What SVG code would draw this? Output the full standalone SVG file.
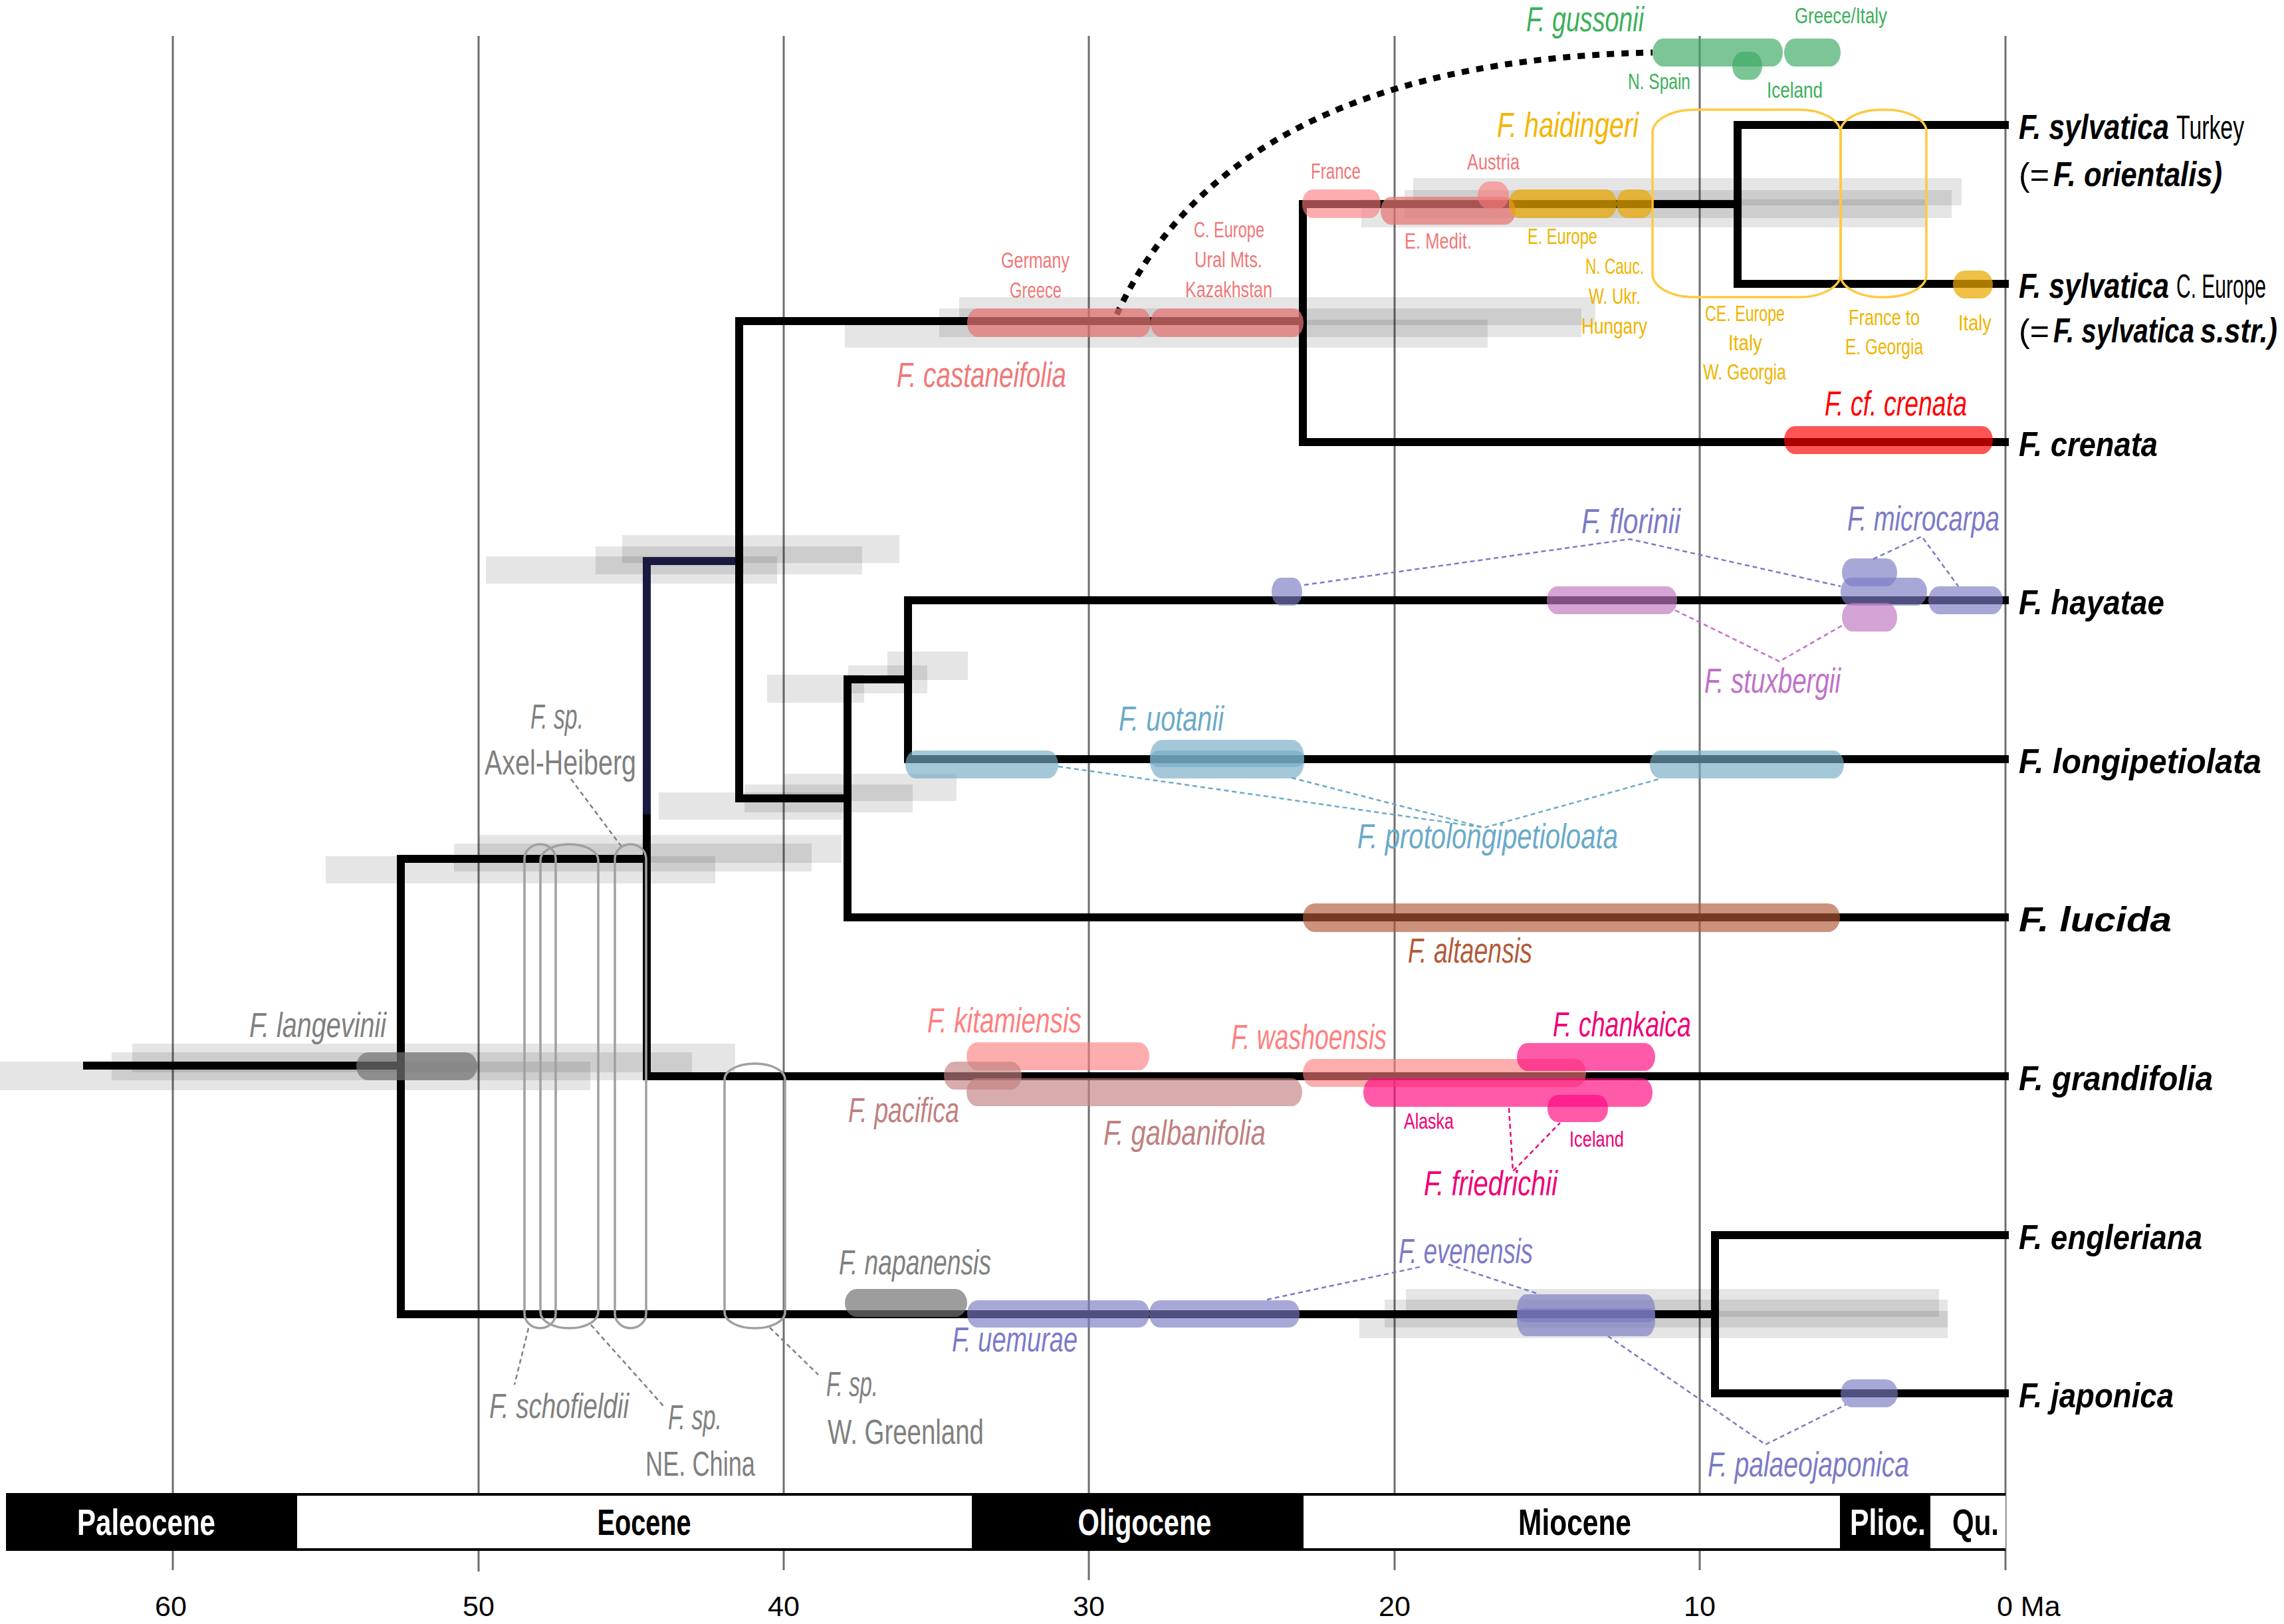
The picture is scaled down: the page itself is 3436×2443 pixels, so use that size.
<svg xmlns="http://www.w3.org/2000/svg" width="3436" height="2443" viewBox="0 0 3436 2443">
<style>
text{font-family:"Liberation Sans",Arial,sans-serif}
.grid{stroke:#6e6e6e;stroke-width:3}
.hpd{fill:#000;fill-opacity:.1}
.br{fill:none;stroke:#000;stroke-width:12;stroke-linejoin:miter;stroke-linecap:butt}
.nav{fill:none;stroke:#1a1a40;stroke-width:12;stroke-linejoin:miter}
.pill{fill:none;stroke:#a0a0a0;stroke-width:3.5}
.ybox{fill:none;stroke:#ffc940;stroke-width:3.5}
.grn{fill:rgb(60,170,100);fill-opacity:.68}
.pkA{fill:rgb(232,116,116);fill-opacity:.72}
.pkB{fill:rgb(252,122,122);fill-opacity:.62}
.gld{fill:rgb(234,167,0);fill-opacity:.72}
.red{fill:rgb(255,0,0);fill-opacity:.667}
.blu{fill:rgb(122,122,195);fill-opacity:.655}
.lil{fill:rgb(191,119,191);fill-opacity:.67}
.tel{fill:rgb(116,171,195);fill-opacity:.655}
.brn{fill:rgb(177,88,55);fill-opacity:.655}
.ros{fill:rgb(195,128,128);fill-opacity:.655}
.hot{fill:rgb(255,3,125);fill-opacity:.655}
.gry{fill:rgb(116,116,116);fill-opacity:.7}
.tip{font-size:52px;font-weight:bold;fill:#000}
.tipi{font-size:52px;font-weight:bold;font-style:italic;fill:#000}
.tipr{font-size:50px;fill:#000}
.sp{font-size:51px;font-style:italic}
.loc{font-size:33px}
.gl{font-size:51px;fill:#808080}
.dash{fill:none;stroke-width:2.5;stroke-dasharray:7 5}
.ep{font-size:55px;font-weight:bold;text-anchor:middle}
.tk{font-size:43px;fill:#000}
</style>

<g id="grid">
<line class="grid" x1="260" y1="54" x2="260" y2="2362"/>
<line class="grid" x1="720" y1="54" x2="720" y2="2364"/>
<line class="grid" x1="1179" y1="54" x2="1179" y2="2362"/>
<line class="grid" x1="1638" y1="54" x2="1638" y2="2377"/>
<line class="grid" x1="2098" y1="54" x2="2098" y2="2362"/>
<line class="grid" x1="2557" y1="54" x2="2557" y2="2362"/>
<line class="grid" x1="3017" y1="54" x2="3017" y2="2362"/>
</g>

<g id="hpd-bars">
<rect class="hpd" x="0" y="1597" width="888" height="43"/>
<rect class="hpd" x="168" y="1583" width="873" height="42"/>
<rect class="hpd" x="199" y="1570" width="907" height="43"/>
<rect class="hpd" x="490" y="1288" width="586" height="41"/>
<rect class="hpd" x="683" y="1269" width="538" height="42"/>
<rect class="hpd" x="721" y="1256" width="545" height="42"/>
<rect class="hpd" x="731" y="837" width="438" height="41"/>
<rect class="hpd" x="896" y="822" width="401" height="42"/>
<rect class="hpd" x="936" y="805" width="417" height="42"/>
<rect class="hpd" x="991" y="1192" width="277" height="41"/>
<rect class="hpd" x="1120" y="1180" width="253" height="42"/>
<rect class="hpd" x="1180" y="1164" width="259" height="41"/>
<rect class="hpd" x="1154" y="1015" width="146" height="42"/>
<rect class="hpd" x="1276" y="1001" width="119" height="42"/>
<rect class="hpd" x="1335" y="980" width="121" height="43"/>
<rect class="hpd" x="1271" y="481" width="967" height="42"/>
<rect class="hpd" x="1413" y="464" width="966" height="43"/>
<rect class="hpd" x="1443" y="447" width="957" height="42"/>
<rect class="hpd" x="2126" y="268" width="825" height="41"/>
<rect class="hpd" x="2113" y="286" width="823" height="42"/>
<rect class="hpd" x="2048" y="300" width="850" height="42"/>
<rect class="hpd" x="2115" y="1939" width="802" height="42"/>
<rect class="hpd" x="2083" y="1955" width="847" height="42"/>
<rect class="hpd" x="2045" y="1972" width="885" height="41"/>
</g>

<g id="branches">
<path class="br" d="M125,1603 H603"/>
<path class="br" d="M973,1292 H603 V1977 H2580"/>
<path class="nav" d="M1112,844 H973 V1225"/>
<path class="br" d="M973,1225 V1619 H3022"/>
<path class="br" d="M1960,483 H1112 V1201 H1275"/>
<path class="br" d="M2614,307 H1960 V665 H3022"/>
<path class="br" d="M3022,188 H2614 V427 H3022"/>
<path class="br" d="M1366,1022 H1275 V1380 H3022"/>
<path class="br" d="M3022,903 H1366 V1142 H3022"/>
<path class="br" d="M3022,1858 H2580 V2096 H3022"/>
</g>

<g id="connectors">
<path d="M1680,473 C1760,300 1950,90 2486,79" fill="none" stroke="#000" stroke-width="9" stroke-dasharray="11 11"/>
<polyline class="dash" stroke="#7a7ac8" points="1962,880 2452,811 2769,882"/>
<polyline class="dash" stroke="#7a7ac8" points="2818,841 2891,807 2946,882"/>
<polyline class="dash" stroke="#c070c8" points="2520,918 2677,995 2773,940"/>
<polyline class="dash" stroke="#6aaac8" points="1592,1153 2233,1245 2499,1171"/>
<line class="dash" stroke="#6aaac8" x1="1943" y1="1170" x2="2233" y2="1245"/>
<polyline class="dash" stroke="#ee0077" points="2270,1667 2276,1762 2347,1689"/>
<line class="dash" stroke="#7a7ac8" x1="1906" y1="1955" x2="2140" y2="1905"/>
<line class="dash" stroke="#7a7ac8" x1="2179" y1="1902" x2="2316" y2="1947"/>
<polyline class="dash" stroke="#7a7ac8" points="2419,2010 2656,2173 2777,2113"/>
<line class="dash" stroke="#808080" x1="859" y1="1172" x2="936" y2="1275"/>
<line class="dash" stroke="#808080" x1="795" y1="1998" x2="774" y2="2083"/>
<line class="dash" stroke="#808080" x1="889" y1="1993" x2="998" y2="2115"/>
<line class="dash" stroke="#808080" x1="1158" y1="1997" x2="1231" y2="2068"/>
</g>

<g id="sylvatica-boxes">
<rect class="ybox" x="2486" y="165" width="283" height="282" rx="62" ry="35"/>
<rect class="ybox" x="2769" y="165" width="129" height="282" rx="62" ry="33"/>
</g>

<g id="gussonii">
<rect class="grn" x="2486" y="58" width="196" height="42" rx="16" ry="21"/>
<rect class="grn" x="2684" y="58" width="85" height="42" rx="16" ry="21"/>
<rect class="grn" x="2606" y="78" width="45" height="42" rx="16" ry="21"/>
<text class="sp" x="2296" y="47" fill="#3cb05a" textLength="177" lengthAdjust="spacingAndGlyphs">F. gussonii</text>
<text class="loc" x="2700" y="35" fill="#3cb05a" textLength="139" lengthAdjust="spacingAndGlyphs">Greece/Italy</text>
<text class="loc" x="2449" y="134" fill="#3cb05a" textLength="94" lengthAdjust="spacingAndGlyphs">N. Spain</text>
<text class="loc" x="2658" y="147" fill="#3cb05a" textLength="84" lengthAdjust="spacingAndGlyphs">Iceland</text>
</g>

<g id="castaneifolia">
<rect class="pkA" x="1455" y="464" width="276" height="43" rx="16" ry="21"/>
<rect class="pkA" x="1731" y="464" width="230" height="43" rx="16" ry="21"/>
<rect class="pkB" x="1959" y="285" width="118" height="43" rx="16" ry="21"/>
<rect class="pkA" x="2077" y="296" width="203" height="42" rx="16" ry="21"/>
<rect class="pkB" x="2223" y="273" width="47" height="42" rx="18" ry="21"/>
<text class="sp" x="1349" y="582" fill="#f07878" textLength="255" lengthAdjust="spacingAndGlyphs">F. castaneifolia</text>
<text class="loc" x="1506" y="403" fill="#f07878" textLength="103" lengthAdjust="spacingAndGlyphs">Germany</text>
<text class="loc" x="1519" y="448" fill="#f07878" textLength="78" lengthAdjust="spacingAndGlyphs">Greece</text>
<text class="loc" x="1796" y="357" fill="#f07878" textLength="106" lengthAdjust="spacingAndGlyphs">C. Europe</text>
<text class="loc" x="1797" y="402" fill="#f07878" textLength="102" lengthAdjust="spacingAndGlyphs">Ural Mts.</text>
<text class="loc" x="1783" y="447" fill="#f07878" textLength="131" lengthAdjust="spacingAndGlyphs">Kazakhstan</text>
<text class="loc" x="1972" y="269" fill="#f07878" textLength="75" lengthAdjust="spacingAndGlyphs">France</text>
<text class="loc" x="2207" y="255" fill="#f07878" textLength="79" lengthAdjust="spacingAndGlyphs">Austria</text>
<text class="loc" x="2113" y="374" fill="#f07878" textLength="101" lengthAdjust="spacingAndGlyphs">E. Medit.</text>
</g>

<g id="haidingeri">
<rect class="gld" x="2270" y="285" width="162" height="43" rx="16" ry="21"/>
<rect class="gld" x="2432" y="285" width="54" height="43" rx="16" ry="21"/>
<rect class="gld" x="2938" y="407" width="60" height="42" rx="18" ry="21"/>
<text class="sp" x="2252" y="206" fill="#f5b400" textLength="213" lengthAdjust="spacingAndGlyphs">F. haidingeri</text>
<text class="loc" x="2298" y="367" fill="#f0b400" textLength="105" lengthAdjust="spacingAndGlyphs">E. Europe</text>
<text class="loc" x="2385" y="412" fill="#f0b400" textLength="88" lengthAdjust="spacingAndGlyphs">N. Cauc.</text>
<text class="loc" x="2390" y="457" fill="#f0b400" textLength="78" lengthAdjust="spacingAndGlyphs">W. Ukr.</text>
<text class="loc" x="2379" y="502" fill="#f0b400" textLength="99" lengthAdjust="spacingAndGlyphs">Hungary</text>
<text class="loc" x="2565" y="483" fill="#f0b400" textLength="120" lengthAdjust="spacingAndGlyphs">CE. Europe</text>
<text class="loc" x="2600" y="527" fill="#f0b400" textLength="51" lengthAdjust="spacingAndGlyphs">Italy</text>
<text class="loc" x="2562" y="571" fill="#f0b400" textLength="125" lengthAdjust="spacingAndGlyphs">W. Georgia</text>
<text class="loc" x="2781" y="489" fill="#f0b400" textLength="107" lengthAdjust="spacingAndGlyphs">France to</text>
<text class="loc" x="2776" y="533" fill="#f0b400" textLength="117" lengthAdjust="spacingAndGlyphs">E. Georgia</text>
<text class="loc" x="2946" y="497" fill="#f0b400" textLength="50" lengthAdjust="spacingAndGlyphs">Italy</text>
</g>

<g id="cf-crenata">
<rect class="red" x="2684" y="641" width="314" height="42" rx="16" ry="21"/>
<text class="sp" x="2745" y="625" fill="#ff0000" textLength="214" lengthAdjust="spacingAndGlyphs">F. cf. crenata</text>
</g>

<g id="hayatae-fossils">
<rect class="blu" x="1913" y="869" width="46" height="42" rx="14" ry="21"/>
<rect class="lil" x="2327" y="882" width="196" height="42" rx="16" ry="21"/>
<rect class="blu" x="2771" y="840" width="83" height="42" rx="16" ry="21"/>
<rect class="blu" x="2769" y="869" width="130" height="42" rx="16" ry="21"/>
<rect class="lil" x="2771" y="907" width="83" height="43" rx="16" ry="21"/>
<rect class="blu" x="2901" y="882" width="112" height="42" rx="16" ry="21"/>
<text class="sp" x="2379" y="802" fill="#7a7ac8" textLength="149" lengthAdjust="spacingAndGlyphs">F. florinii</text>
<text class="sp" x="2779" y="798" fill="#7a7ac8" textLength="229" lengthAdjust="spacingAndGlyphs">F. microcarpa</text>
<text class="sp" x="2564" y="1042" fill="#c070c8" textLength="205" lengthAdjust="spacingAndGlyphs">F. stuxbergii</text>
</g>

<g id="longipetiolata-fossils">
<rect class="tel" x="1362" y="1129" width="230" height="42" rx="16" ry="21"/>
<rect class="tel" x="1730" y="1113" width="232" height="58" rx="18" ry="26"/>
<rect class="tel" x="1730" y="1129" width="232" height="25" rx="14" ry="12"/>
<rect class="tel" x="2482" y="1129" width="292" height="42" rx="16" ry="21"/>
<text class="sp" x="1683" y="1099" fill="#6aaac8" textLength="158" lengthAdjust="spacingAndGlyphs">F. uotanii</text>
<text class="sp" x="2042" y="1276" fill="#6aaac8" textLength="392" lengthAdjust="spacingAndGlyphs">F. protolongipetioloata</text>
</g>

<g id="altaensis">
<rect class="brn" x="1960" y="1359" width="808" height="43" rx="18" ry="21"/>
<text class="sp" x="2118" y="1448" fill="#b05a38" textLength="187" lengthAdjust="spacingAndGlyphs">F. altaensis</text>
</g>

<g id="grandifolia-fossils">
<rect class="pkB" x="1454" y="1568" width="275" height="42" rx="16" ry="21"/>
<rect class="ros" x="1420" y="1597" width="117" height="42" rx="16" ry="21"/>
<rect class="ros" x="1454" y="1622" width="505" height="42" rx="16" ry="21"/>
<rect class="pkB" x="1960" y="1593" width="426" height="42" rx="16" ry="21"/>
<rect class="hot" x="2282" y="1569" width="208" height="42" rx="16" ry="21"/>
<rect class="hot" x="2051" y="1622" width="435" height="43" rx="16" ry="21"/>
<rect class="hot" x="2328" y="1647" width="91" height="41" rx="16" ry="20"/>
<text class="sp" x="1395" y="1553" fill="#ff7f7f" textLength="232" lengthAdjust="spacingAndGlyphs">F. kitamiensis</text>
<text class="sp" x="1852" y="1578" fill="#ff7f7f" textLength="234" lengthAdjust="spacingAndGlyphs">F. washoensis</text>
<text class="sp" x="2336" y="1559" fill="#ee0077" textLength="208" lengthAdjust="spacingAndGlyphs">F. chankaica</text>
<text class="sp" x="1276" y="1688" fill="#c08080" textLength="167" lengthAdjust="spacingAndGlyphs">F. pacifica</text>
<text class="sp" x="1660" y="1722" fill="#c08080" textLength="244" lengthAdjust="spacingAndGlyphs">F. galbanifolia</text>
<text class="sp" x="2142" y="1798" fill="#ee0077" textLength="201" lengthAdjust="spacingAndGlyphs">F. friedrichii</text>
<text class="loc" x="2112" y="1698" fill="#ee0077" textLength="75" lengthAdjust="spacingAndGlyphs">Alaska</text>
<text class="loc" x="2361" y="1725" fill="#ee0077" textLength="82" lengthAdjust="spacingAndGlyphs">Iceland</text>
</g>

<g id="langevinii">
<rect class="gry" x="536" y="1583" width="182" height="42" rx="18" ry="21"/>
<text class="gl sp" x="375" y="1560" fill="#808080" textLength="206" lengthAdjust="spacingAndGlyphs">F. langevinii</text>
</g>

<g id="eocene-fossils">
<rect class="pill" x="789" y="1270" width="47" height="728" rx="23.5" ry="22"/>
<rect class="pill" x="813" y="1270" width="87" height="728" rx="43.5" ry="24"/>
<rect class="pill" x="925" y="1270" width="47" height="728" rx="23.5" ry="22"/>
<rect class="pill" x="1090" y="1600" width="91" height="398" rx="45" ry="24"/>
<text class="gl" x="798" y="1096" font-style="italic" textLength="80" lengthAdjust="spacingAndGlyphs">F. sp.</text>
<text class="gl" x="729" y="1165" textLength="228" lengthAdjust="spacingAndGlyphs">Axel-Heiberg</text>
<text class="gl" x="736" y="2133" font-style="italic" textLength="210" lengthAdjust="spacingAndGlyphs">F. schofieldii</text>
<text class="gl" x="1005" y="2150" font-style="italic" textLength="81" lengthAdjust="spacingAndGlyphs">F. sp.</text>
<text class="gl" x="971" y="2220" textLength="165" lengthAdjust="spacingAndGlyphs">NE. China</text>
<text class="gl" x="1243" y="2100" font-style="italic" textLength="78" lengthAdjust="spacingAndGlyphs">F. sp.</text>
<text class="gl" x="1245" y="2172" textLength="235" lengthAdjust="spacingAndGlyphs">W. Greenland</text>
</g>

<g id="japonica-fossils">
<rect class="gry" x="1271" y="1939" width="184" height="42" rx="18" ry="21"/>
<rect class="blu" x="1455" y="1956" width="274" height="41" rx="16" ry="20"/>
<rect class="blu" x="1729" y="1956" width="226" height="41" rx="16" ry="20"/>
<rect class="blu" x="2282" y="1947" width="208" height="63" rx="14" ry="24"/>
<rect class="blu" x="2282" y="1968" width="208" height="21" rx="10" ry="10"/>
<rect class="blu" x="2769" y="2075" width="86" height="42" rx="18" ry="21"/>
<text class="gl sp" x="1262" y="1917" fill="#808080" textLength="229" lengthAdjust="spacingAndGlyphs">F. napanensis</text>
<text class="sp" x="1432" y="2033" fill="#7a7ac8" textLength="189" lengthAdjust="spacingAndGlyphs">F. uemurae</text>
<text class="sp" x="2104" y="1900" fill="#7a7ac8" textLength="202" lengthAdjust="spacingAndGlyphs">F. evenensis</text>
<text class="sp" x="2569" y="2221" fill="#7a7ac8" textLength="303" lengthAdjust="spacingAndGlyphs">F. palaeojaponica</text>
</g>

<g id="tip-sylvatica-turkey">
<text class="tipi" transform="translate(3037,209) scale(0.807,1)" textLength="280" lengthAdjust="spacingAndGlyphs">F. sylvatica</text>
<text class="tipr" transform="translate(3274,209) scale(0.667,1)" textLength="153" lengthAdjust="spacingAndGlyphs">Turkey</text>
<text class="tipr" x="3037" y="280" textLength="46" lengthAdjust="spacingAndGlyphs">(=</text>
<text class="tipi" transform="translate(3089,280) scale(0.822,1)" textLength="309" lengthAdjust="spacingAndGlyphs">F. orientalis)</text>
</g>
<g id="tip-sylvatica-europe">
<text class="tipi" transform="translate(3037,448) scale(0.807,1)" textLength="280" lengthAdjust="spacingAndGlyphs">F. sylvatica</text>
<text class="tipr" transform="translate(3274,448) scale(0.6,1)" textLength="225" lengthAdjust="spacingAndGlyphs">C. Europe</text>
<text class="tipr" x="3037" y="515" textLength="46" lengthAdjust="spacingAndGlyphs">(=</text>
<text class="tipi" transform="translate(3089,515) scale(0.757,1)" textLength="280" lengthAdjust="spacingAndGlyphs">F. sylvatica</text>
<text class="tipi" transform="translate(3310,515) scale(0.817,1)" textLength="142" lengthAdjust="spacingAndGlyphs">s.str.)</text>
</g>
<g id="tip-crenata"><text class="tipi" x="3037" y="686" textLength="209" lengthAdjust="spacingAndGlyphs">F. crenata</text></g>
<g id="tip-hayatae"><text class="tipi" x="3037" y="924" textLength="219" lengthAdjust="spacingAndGlyphs">F. hayatae</text></g>
<g id="tip-longipetiolata"><text class="tipi" x="3037" y="1163" textLength="365" lengthAdjust="spacingAndGlyphs">F. longipetiolata</text></g>
<g id="tip-lucida"><text class="tipi" x="3037" y="1401" textLength="230" lengthAdjust="spacingAndGlyphs">F. lucida</text></g>
<g id="tip-grandifolia"><text class="tipi" x="3037" y="1640" textLength="292" lengthAdjust="spacingAndGlyphs">F. grandifolia</text></g>
<g id="tip-engleriana"><text class="tipi" x="3037" y="1879" textLength="276" lengthAdjust="spacingAndGlyphs">F. engleriana</text></g>
<g id="tip-japonica"><text class="tipi" x="3037" y="2117" textLength="233" lengthAdjust="spacingAndGlyphs">F. japonica</text></g>

<g id="timescale">
<rect x="9" y="2246" width="3008" height="87" fill="#000"/>
<rect x="447" y="2250" width="1015" height="79" fill="#fff"/>
<rect x="1961" y="2250" width="807" height="79" fill="#fff"/>
<rect x="2904" y="2250" width="113" height="79" fill="#fff"/>
<text class="ep" x="220" y="2309" fill="#fff" textLength="208" lengthAdjust="spacingAndGlyphs">Paleocene</text>
<text class="ep" x="969" y="2309" fill="#000" textLength="141" lengthAdjust="spacingAndGlyphs">Eocene</text>
<text class="ep" x="1722" y="2309" fill="#fff" textLength="201" lengthAdjust="spacingAndGlyphs">Oligocene</text>
<text class="ep" x="2369" y="2309" fill="#000" textLength="170" lengthAdjust="spacingAndGlyphs">Miocene</text>
<text class="ep" x="2840" y="2309" fill="#fff" textLength="114" lengthAdjust="spacingAndGlyphs">Plioc.</text>
<text class="ep" x="2972" y="2309" fill="#000" textLength="70" lengthAdjust="spacingAndGlyphs">Qu.</text>
<text class="tk" x="257" y="2431" text-anchor="middle">60</text>
<text class="tk" x="720" y="2431" text-anchor="middle">50</text>
<text class="tk" x="1179" y="2431" text-anchor="middle">40</text>
<text class="tk" x="1638" y="2431" text-anchor="middle">30</text>
<text class="tk" x="2098" y="2431" text-anchor="middle">20</text>
<text class="tk" x="2557" y="2431" text-anchor="middle">10</text>
<text class="tk" x="3004" y="2431">0 Ma</text>
</g>
</svg>
